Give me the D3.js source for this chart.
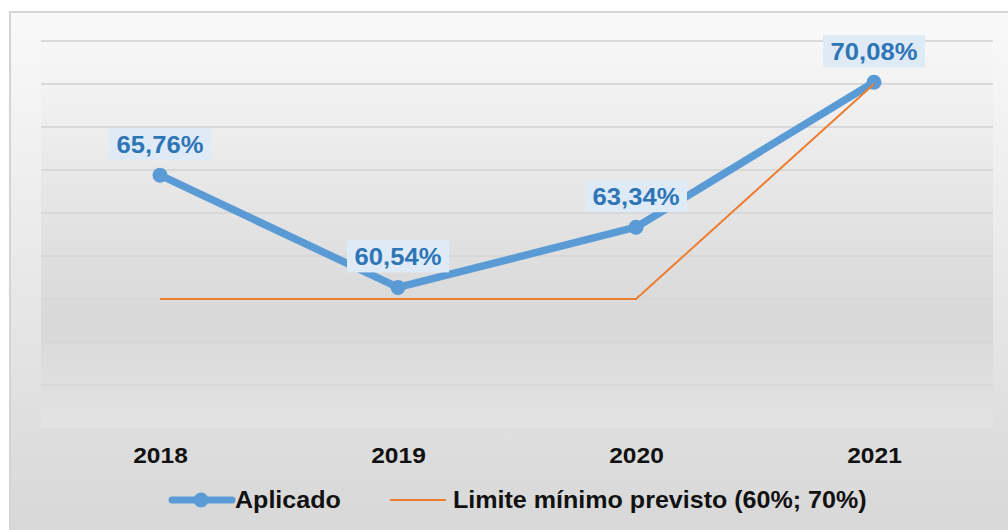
<!DOCTYPE html>
<html>
<head>
<meta charset="utf-8">
<script src="https://cdn.jsdelivr.net/npm/d3@7"></script>
<style>
  body { margin: 0; background: #fff; }
  text { font-family: "Liberation Sans", Arial, sans-serif; font-weight: bold; }
</style>
</head>
<body>
<div id="chart"></div>
<script>
// Data
const years = ["2018", "2019", "2020", "2021"];
const aplicado = [65.76, 60.54, 63.34, 70.08];
const limite = [60, 60, 60, 70];
const yTicks = [54, 56, 58, 60, 62, 64, 66, 68, 70, 72];

const W = 1008, H = 530;
const plot = { left: 41, right: 993, top: 41, bottom: 428 };
const stretch = "scale(1.09,1)"; // text in the original is slightly wide

const svg = d3.select("#chart")
    .append("svg")
    .attr("width", W)
    .attr("height", H);

const defs = svg.append("defs");
const outerGrad = defs.append("linearGradient")
    .attr("id", "outerGrad").attr("x1", 0).attr("y1", 0).attr("x2", 0).attr("y2", 1);
outerGrad.append("stop").attr("offset", "0%").attr("stop-color", "#f9f9f9");
outerGrad.append("stop").attr("offset", "100%").attr("stop-color", "#d7d7d7");

const plotGrad = defs.append("linearGradient")
    .attr("id", "plotGrad").attr("x1", 0).attr("y1", 0).attr("x2", 0).attr("y2", 1);
plotGrad.append("stop").attr("offset", "0%").attr("stop-color", "#f7f7f7");
plotGrad.append("stop").attr("offset", "72%").attr("stop-color", "#d8d8d8");
plotGrad.append("stop").attr("offset", "100%").attr("stop-color", "#e3e3e3");

// chart area
svg.append("rect")
    .attr("x", 10).attr("y", 12)
    .attr("width", W).attr("height", H)
    .attr("fill", "url(#outerGrad)")
    .attr("stroke", "#d4d4d4")
    .attr("stroke-width", 2);

svg.append("rect")
    .attr("x", plot.left).attr("y", plot.top)
    .attr("width", plot.right - plot.left)
    .attr("height", plot.bottom - plot.top)
    .attr("fill", "url(#plotGrad)");

// Scales
const x = d3.scalePoint()
    .domain(years)
    .range([plot.left, plot.right])
    .padding(0.5);

const y = d3.scaleLinear()
    .domain([54, 72])
    .range([plot.bottom, plot.top]);

// Gridlines
svg.append("g")
    .selectAll("line")
    .data(yTicks.slice(1))
    .join("line")
    .attr("x1", plot.left)
    .attr("x2", plot.right)
    .attr("y1", d => y(d))
    .attr("y2", d => y(d))
    .attr("stroke", "#d6d6d6")
    .attr("stroke-opacity", 0.9)
    .attr("stroke-width", 2);

// X axis labels
const xAxis = d3.axisBottom(x).tickSize(0).tickPadding(19);
const gx = svg.append("g")
    .attr("transform", `translate(0,${plot.bottom})`)
    .call(xAxis);
gx.select(".domain").remove();
gx.selectAll("text")
    .attr("font-size", 22.5)
    .attr("fill", "#111")
    .attr("transform", stretch)
    .style("font-family", "'Liberation Sans', Arial, sans-serif")
    .style("font-weight", "bold");

// Lines
const line = d3.line()
    .x((d, i) => x(years[i]))
    .y(d => y(d));

svg.append("path")
    .datum(aplicado)
    .attr("d", line)
    .attr("fill", "none")
    .attr("stroke", "#5b9bd5")
    .attr("stroke-width", 7.5)
    .attr("stroke-linejoin", "round");

svg.append("g")
    .selectAll("circle")
    .data(aplicado)
    .join("circle")
    .attr("cx", (d, i) => x(years[i]))
    .attr("cy", d => y(d))
    .attr("r", 7.5)
    .attr("fill", "#5b9bd5");

svg.append("path")
    .datum(limite)
    .attr("d", line)
    .attr("fill", "none")
    .attr("stroke", "#ed7d31")
    .attr("stroke-width", 2);

// Data labels
const fmt = d => d.toFixed(2).replace(".", ",") + "%";
const labels = svg.append("g")
    .selectAll("g")
    .data(aplicado)
    .join("g")
    .attr("transform", (d, i) => `translate(${x(years[i])},${y(d) - 31})`);

labels.append("rect")
    .attr("x", -51).attr("y", -16)
    .attr("width", 102).attr("height", 32)
    .attr("fill", "#deebf7");

labels.append("text")
    .attr("text-anchor", "middle")
    .attr("dy", "0.36em")
    .attr("font-size", 23.5)
    .attr("fill", "#2e75b6")
    .attr("transform", stretch)
    .text(fmt);

// Legend
const legend = svg.append("g").attr("transform", "translate(0,500)");
legend.append("line")
    .attr("x1", 172).attr("x2", 232)
    .attr("stroke", "#5b9bd5").attr("stroke-width", 7).attr("stroke-linecap", "round");
legend.append("circle")
    .attr("cx", 201).attr("r", 7.5).attr("fill", "#5b9bd5");
legend.append("g").attr("transform", "translate(235,0)")
    .append("text")
    .attr("dy", "0.36em")
    .attr("font-size", 23)
    .attr("fill", "#111")
    .attr("transform", stretch)
    .text("Aplicado");
legend.append("line")
    .attr("x1", 390).attr("x2", 446)
    .attr("stroke", "#ed7d31").attr("stroke-width", 2);
legend.append("g").attr("transform", "translate(453,0)")
    .append("text")
    .attr("dy", "0.36em")
    .attr("font-size", 23)
    .attr("fill", "#111")
    .attr("transform", stretch)
    .text("Limite mínimo previsto (60%; 70%)");
</script>
</body>
</html>
